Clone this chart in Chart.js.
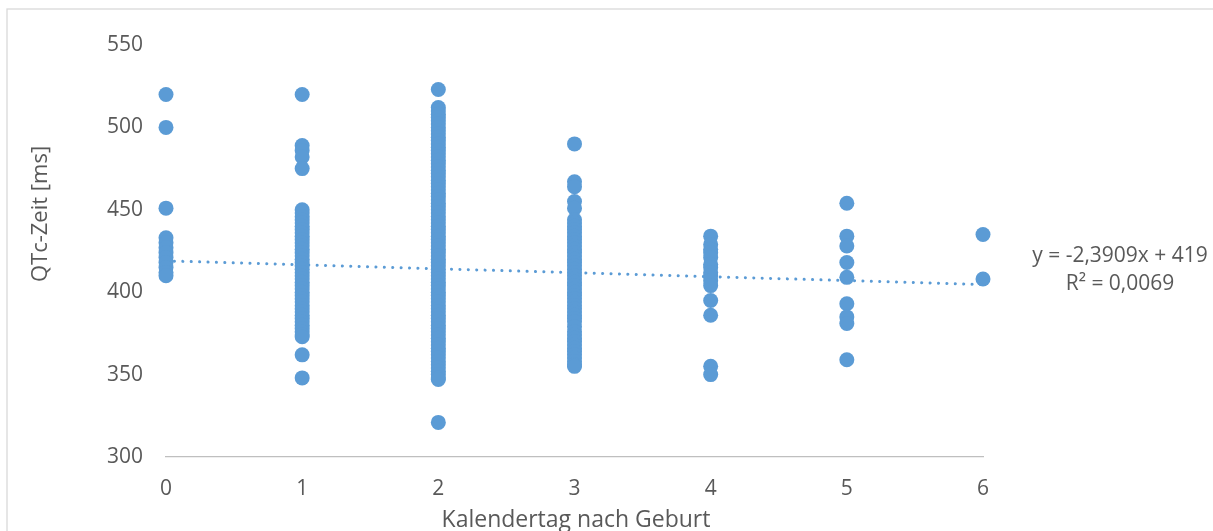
<!DOCTYPE html>
<html>
<head>
<meta charset="utf-8">
<script src="https://cdn.jsdelivr.net/npm/chart.js@4/dist/chart.umd.min.js"></script>
<style>
  html, body { margin: 0; padding: 0; background: #ffffff; }
  #wrap { width: 1213px; height: 531px; position: relative; }
</style>
</head>
<body>
<div id="wrap"><canvas id="c" width="1213" height="531"></canvas></div>
<script>
// ---- data ----
const day0 = [520, 500, 451, 433, 430, 427, 424, 421, 418, 415, 412, 410];
const day1 = [520, 489, 486, 482, 475, 450, 448, 446, 444, 442, 440, 438, 436, 434, 432, 430, 428, 426, 424, 422, 420, 418, 416, 414, 412, 410, 408, 406, 404, 402, 400, 398, 396, 394, 392, 390, 388, 386, 384, 382, 380, 378, 376, 374, 373, 362, 348];
const day2 = [523, 512, 510, 508, 506, 504, 502, 500, 498, 496, 494, 492, 490, 488, 486, 484, 482, 480, 478, 476, 474, 472, 470, 468, 466, 464, 462, 460, 458, 456, 454, 452, 450, 448, 446, 444, 442, 440, 438, 436, 434, 432, 430, 428, 426, 424, 422, 420, 418, 416, 414, 412, 410, 408, 406, 404, 402, 400, 398, 396, 394, 392, 390, 388, 386, 384, 382, 380, 378, 376, 374, 372, 370, 368, 366, 364, 362, 360, 358, 356, 354, 352, 350, 348, 347, 321];
const day3 = [490, 467, 464, 455, 451, 444, 442, 440, 438, 436, 434, 432, 430, 428, 426, 424, 422, 420, 418, 416, 414, 412, 410, 408, 406, 404, 402, 400, 398, 396, 394, 392, 390, 388, 386, 384, 382, 379, 376, 374, 372, 370, 368, 366, 364, 362, 360, 358, 356, 355];
const day4 = [434, 429, 426, 424, 421, 417, 415, 412, 410, 407, 404, 395, 386, 355, 350];
const day5 = [454, 434, 428, 418, 409, 393, 385, 381, 359];
const day6 = [435, 408];
const dayValues = [day0, day1, day2, day3, day4, day5, day6];

const trendX = [0, 6];
const trendY = [419, 404.65];
const trendLabel1 = 'y = -2,3909x + 419';
const trendLabel2 = 'R² = 0,0069';

const xTicks = [0, 1, 2, 3, 4, 5, 6];
const yTicks = [300, 350, 400, 450, 500, 550];
const xTitle = 'Kalendertag nach Geburt';
const yTitle = 'QTc-Zeit [ms]';

// ---- build points ----
const scatterPoints = [];
dayValues.forEach((vals, d) => vals.forEach(v => scatterPoints.push({ x: d, y: v })));
const trendPoints = trendX.map((x, i) => ({ x: x, y: trendY[i] }));

const BLUE = '#5b9bd5';
const TEXT = '#595959';
const FONT = "'Open Sans', 'Noto Sans', sans-serif";

const decor = {
  id: 'decor',
  beforeDraw(chart) {
    const ctx = chart.ctx;
    ctx.save();
    ctx.fillStyle = '#ffffff';
    ctx.fillRect(0, 0, chart.width, chart.height);
    ctx.strokeStyle = '#d9d9d9';
    ctx.lineWidth = 1.3;
    ctx.strokeRect(7, 9, 1400, 700);
    ctx.restore();
  },
  afterDraw(chart) {
    const ctx = chart.ctx;
    ctx.save();
    ctx.fillStyle = TEXT;
    ctx.textAlign = 'center';
    ctx.textBaseline = 'alphabetic';
    // x title
    ctx.font = '23px ' + FONT;
    ctx.fillText(xTitle, 576, 527);
    // y title
    ctx.font = '22px ' + FONT;
    ctx.save();
    ctx.translate(47, 214);
    ctx.rotate(-Math.PI / 2);
    ctx.fillText(yTitle, 0, 0);
    ctx.restore();
    // trendline label
    ctx.font = '21px ' + FONT;
    ctx.fillText(trendLabel1, 1120, 262);
    ctx.fillText(trendLabel2, 1120, 290);
    ctx.restore();
  }
};

new Chart(document.getElementById('c'), {
  type: 'scatter',
  data: {
    datasets: [
      {
        type: 'scatter',
        data: scatterPoints,
        backgroundColor: BLUE,
        borderColor: BLUE,
        borderWidth: 0,
        pointRadius: 7.5,
        pointHoverRadius: 7.5,
        clip: false,
        order: 0
      },
      {
        type: 'line',
        data: trendPoints,
        borderColor: BLUE,
        borderWidth: 3,
        borderDash: [0.1, 8.3],
        borderCapStyle: 'round',
        pointRadius: 0,
        fill: false,
        tension: 0,
        clip: false,
        order: 1
      }
    ]
  },
  options: {
    responsive: false,
    animation: false,
    devicePixelRatio: 1,
    layout: { padding: { top: 45, right: 230, left: 0, bottom: 0 } },
    plugins: {
      legend: { display: false },
      tooltip: { enabled: false },
      title: { display: false }
    },
    scales: {
      x: {
        type: 'linear',
        min: 0,
        max: 6,
        afterBuildTicks: (s) => { s.ticks = xTicks.map(v => ({ value: v })); },
        afterFit: (s) => { s.height = 74; },
        grid: { display: false, drawTicks: false },
        border: { display: true, color: '#bfbfbf', width: 1.3 },
        ticks: { color: TEXT, font: { family: FONT, size: 21 }, padding: 19, maxRotation: 0 }
      },
      y: {
        type: 'linear',
        min: 300,
        max: 550,
        afterBuildTicks: (s) => { s.ticks = yTicks.map(v => ({ value: v })); },
        afterFit: (s) => { s.width = 166; },
        grid: { display: false, drawTicks: false },
        border: { display: false },
        ticks: { color: TEXT, font: { family: FONT, size: 21 }, padding: 23 }
      }
    }
  },
  plugins: [decor]
});
</script>
</body>
</html>
